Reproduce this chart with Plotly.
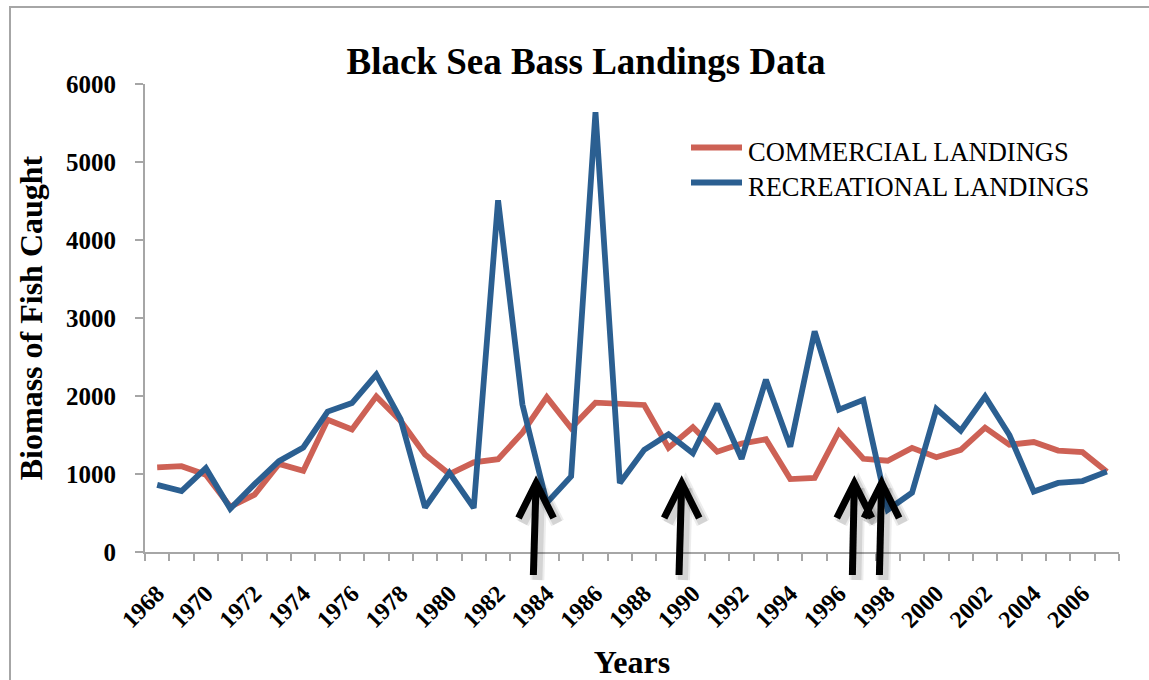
import plotly.graph_objects as go

# Black sea bass landings, 1968-2007
years = [str(y) for y in range(1968, 2008)]
commercial = [1085, 1100, 990, 580, 735, 1130, 1040, 1695, 1570, 1995,
              1680, 1250, 1000, 1150, 1190, 1530, 1985, 1590, 1915, 1900,
              1885, 1335, 1600, 1285, 1390, 1445, 935, 950, 1545, 1195,
              1170, 1335, 1215, 1310, 1595, 1375, 1410, 1300, 1280, 1030]
recreational = [860, 780, 1075, 555, 870, 1165, 1340, 1800, 1910, 2275,
                1700, 570, 1015, 565, 4510, 1890, 630, 970, 5640, 885,
                1310, 1510, 1265, 1900, 1195, 2210, 1350, 2830, 1825, 1950,
                540, 760, 1835, 1555, 1995, 1500, 775, 885, 910, 1030]
x_labels = [y if int(y) % 2 == 0 else "" for y in years]
y_ticks = [0, 1000, 2000, 3000, 4000, 5000, 6000]

# category positions of the hand-drawn arrows (tip, shaft foot)
arrow_tips = [15.56, 21.54, 28.63, 29.75]
arrow_feet = [15.45, 21.43, 28.55, 29.66]

W, H = 1149, 680
L, R, T, B = 145, 30, 84, 128
PW, PH = W - L - R, H - T - B

RED = "#CD6155"
BLUE = "#2B5F91"
AXIS = "#A6A6A6"
SERIF = "Liberation Serif, Times New Roman, serif"


def px_x(px):
    return (px - L) / PW


def px_y(py):
    return (H - B - py) / PH


fig = go.Figure()
fig.add_trace(go.Scatter(x=years, y=commercial, mode="lines",
                         name="COMMERCIAL LANDINGS",
                         line=dict(color=RED, width=5.8)))
fig.add_trace(go.Scatter(x=years, y=recreational, mode="lines",
                         name="RECREATIONAL LANDINGS",
                         line=dict(color=BLUE, width=5.8)))

shapes = []
# outer chart frame
shapes.append(dict(type="rect", xref="paper", yref="paper",
                   x0=px_x(10), y0=px_y(7), x1=px_x(1200), y1=px_y(720),
                   line=dict(color=AXIS, width=2), fillcolor="rgba(0,0,0,0)",
                   layer="below"))

# arrows with soft drop shadow
tip_y, arm_y, foot_y = px_y(483), px_y(518), px_y(575)
arm_dx = 0.72
sh_dx, sh_dy = 4 / (PW / 40), 5 / PH
for tip, foot in zip(arrow_tips, arrow_feet):
    for w, a in ((14, 0.07), (10, 0.10)):
        col = f"rgba(0,0,0,{a})"
        shapes.append(dict(type="path", xref="x", yref="paper",
                           path=f"M {tip - arm_dx + sh_dx},{arm_y - sh_dy} "
                                f"L {tip + sh_dx},{tip_y - sh_dy} "
                                f"L {tip + arm_dx + sh_dx},{arm_y - sh_dy}",
                           line=dict(color=col, width=w)))
        shapes.append(dict(type="line", xref="x", yref="paper",
                           x0=tip + sh_dx, y0=tip_y - sh_dy,
                           x1=foot + sh_dx, y1=foot_y - sh_dy,
                           line=dict(color=col, width=w)))
for tip, foot in zip(arrow_tips, arrow_feet):
    shapes.append(dict(type="line", xref="x", yref="paper",
                       x0=tip, y0=tip_y, x1=foot, y1=foot_y,
                       line=dict(color="black", width=7)))
    shapes.append(dict(type="path", xref="x", yref="paper",
                       path=f"M {tip - arm_dx},{arm_y} L {tip},{tip_y} "
                            f"L {tip + arm_dx},{arm_y}",
                       line=dict(color="black", width=7)))

# legend swatches
legend_rows = [("COMMERCIAL LANDINGS", RED, 147.5, 151.5),
               ("RECREATIONAL LANDINGS", BLUE, 182.5, 186.5)]
annotations = []
for text, col, ly, ty in legend_rows:
    shapes.append(dict(type="line", xref="paper", yref="paper",
                       x0=px_x(691), x1=px_x(742), y0=px_y(ly), y1=px_y(ly),
                       line=dict(color=col, width=5.8)))
    annotations.append(dict(xref="paper", yref="paper", x=px_x(746),
                            y=px_y(ty), xanchor="left", yanchor="middle",
                            text=text, showarrow=False,
                            font=dict(family=SERIF, size=26.5, color="black")))

fig.update_layout(
    width=W, height=H,
    margin=dict(l=L, r=R, t=T, b=B, autoexpand=False),
    paper_bgcolor="white", plot_bgcolor="white",
    showlegend=False,
    title=dict(text="Black Sea Bass Landings Data",
               x=586 / W, xref="container", xanchor="center",
               y=1 - 61 / H, yref="container", yanchor="middle",
               font=dict(family=SERIF, size=37, color="black",
                         weight="bold")),
    xaxis=dict(type="category", tickmode="array", tickvals=years,
               ticktext=x_labels, tickson="boundaries", tickangle=-45,
               ticks="outside", ticklen=7, tickwidth=2, tickcolor=AXIS,
               showline=True, linecolor=AXIS, linewidth=2,
               showgrid=False, zeroline=False, automargin=False,
               range=[-0.5, 39.5], ticklabelstandoff=16,
               tickfont=dict(family=SERIF, size=24, color="black",
                             weight="bold"),
               title=dict(text="Years", standoff=20,
                          font=dict(family=SERIF, size=32, color="black",
                                    weight="bold"))),
    yaxis=dict(range=[0, 6000], tickmode="array", tickvals=y_ticks,
               ticks="outside", ticklen=8, tickwidth=2, tickcolor=AXIS,
               showline=True, linecolor=AXIS, linewidth=2,
               showgrid=False, zeroline=False, automargin=False,
               ticklabelstandoff=14,
               tickfont=dict(family=SERIF, size=25, color="black",
                             weight="bold"),
               title=dict(text="Biomass of Fish Caught", standoff=14,
                          font=dict(family=SERIF, size=32, color="black",
                                    weight="bold"))),
    shapes=shapes,
    annotations=annotations,
)

fig.write_html("out.html")
